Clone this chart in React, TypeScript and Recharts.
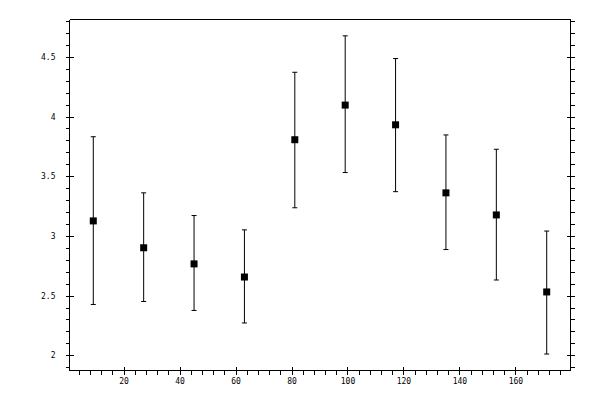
import React from 'react';
import { ScatterChart, Scatter, XAxis, YAxis, ErrorBar } from 'recharts';

const xValues = [9, 27, 45, 63, 81, 99, 117, 135, 153, 171];
const yValues = [3.13, 2.905, 2.77, 2.66, 3.81, 4.1, 3.935, 3.365, 3.18, 2.535];
const lowValues = [2.43, 2.455, 2.38, 2.275, 3.24, 3.535, 3.375, 2.89, 2.635, 2.015];
const highValues = [3.835, 3.365, 3.175, 3.055, 4.375, 4.68, 4.49, 3.85, 3.73, 3.045];

const xMajorTicks = [20, 40, 60, 80, 100, 120, 140, 160];
const yMajorTicks = [2, 2.5, 3, 3.5, 4, 4.5];
const xDomain: [number, number] = [0.5, 179.5];
const yDomain: [number, number] = [1.877, 4.817];

const xTicks: number[] = [];
for (let v = 4; v <= 176; v += 4) xTicks.push(v);
const yTicks: number[] = [];
for (let i = 19; i <= 48; i++) yTicks.push(i / 10);

const data = xValues.map((x, i) => ({
  x,
  y: yValues[i],
  err: [yValues[i] - lowValues[i], highValues[i] - yValues[i]],
}));

const near = (a: number, b: number) => Math.abs(a - b) < 1e-6;
const isXMajor = (v: number) => xMajorTicks.some((t) => near(t, v));
const isYMajor = (v: number) => yMajorTicks.some((t) => near(t, v));

const FONT = '"DejaVu Sans Mono", monospace';

function makeTick(orient: 'left' | 'right' | 'top' | 'bottom', showLabel: boolean) {
  return (props: any) => {
    const { x, y, payload } = props;
    const v = payload.value as number;
    const major = orient === 'left' || orient === 'right' ? isYMajor(v) : isXMajor(v);
    const out = 4;
    const inn = major ? 4 : 0;
    let line: React.ReactNode = null;
    let label: React.ReactNode = null;
    const common = { stroke: '#000', strokeWidth: 1, shapeRendering: 'crispEdges' as const };
    const txt = String(Math.round(v * 10) / 10);
    if (orient === 'left') {
      line = <line x1={x - out} x2={x + inn} y1={y} y2={y} {...common} />;
      if (showLabel && major)
        label = (
          <text x={x - 14} y={y} textAnchor="end" dominantBaseline="central" fontSize={8} fontFamily={FONT} fill="#000" stroke="none">
            {txt}
          </text>
        );
    } else if (orient === 'right') {
      line = <line x1={x - inn} x2={x + out} y1={y} y2={y} {...common} />;
    } else if (orient === 'top') {
      line = <line x1={x} x2={x} y1={y - out} y2={y + inn} {...common} />;
    } else {
      line = <line x1={x} x2={x} y1={y - inn} y2={y + out} {...common} />;
      if (showLabel && major)
        label = (
          <text x={x} y={y + 11} textAnchor="middle" dominantBaseline="central" fontSize={8} fontFamily={FONT} fill="#000" stroke="none">
            {txt}
          </text>
        );
    }
    return (
      <g>
        {line}
        {label}
      </g>
    );
  };
}

const axisLine = { stroke: '#000', strokeWidth: 1, shapeRendering: 'crispEdges' };

const SquareShape = (p: any) => (
  <rect x={p.cx - 3.5} y={p.cy - 3.5} width={7} height={7} fill="#000" />
);

export default function App() {
  return (
    <div style={{ position: 'absolute', left: 0, top: 0, width: 600, height: 400, background: '#fff' }}>
      <ScatterChart width={600} height={400} margin={{ top: 0, right: 0, bottom: 0, left: 0 }}>
        <XAxis
          xAxisId={0}
          type="number"
          dataKey="x"
          domain={xDomain}
          allowDataOverflow
          ticks={xTicks}
          interval={0}
          height={29.5}
          orientation="bottom"
          tickSize={0}
          tickMargin={0}
          tickLine={false}
          axisLine={axisLine}
          tick={makeTick('bottom', true)}
        />
        <XAxis
          xAxisId="top"
          type="number"
          domain={xDomain}
          allowDataOverflow
          ticks={xTicks}
          interval={0}
          height={19.5}
          orientation="top"
          tickSize={0}
          tickMargin={0}
          tickLine={false}
          axisLine={axisLine}
          tick={makeTick('top', false)}
        />
        <YAxis
          yAxisId={0}
          type="number"
          dataKey="y"
          domain={yDomain}
          allowDataOverflow
          ticks={yTicks}
          interval={0}
          width={69.5}
          orientation="left"
          tickSize={0}
          tickMargin={0}
          tickLine={false}
          axisLine={axisLine}
          tick={makeTick('left', true)}
        />
        <YAxis
          yAxisId="right"
          type="number"
          domain={yDomain}
          allowDataOverflow
          ticks={yTicks}
          interval={0}
          width={29.5}
          orientation="right"
          tickSize={0}
          tickMargin={0}
          tickLine={false}
          axisLine={axisLine}
          tick={makeTick('right', false)}
        />
        <Scatter data={data} xAxisId={0} yAxisId={0} isAnimationActive={false} shape={SquareShape}>
          <ErrorBar dataKey="err" direction="y" width={2.5} stroke="#000" strokeWidth={1} isAnimationActive={false} />
        </Scatter>
      </ScatterChart>
    </div>
  );
}
